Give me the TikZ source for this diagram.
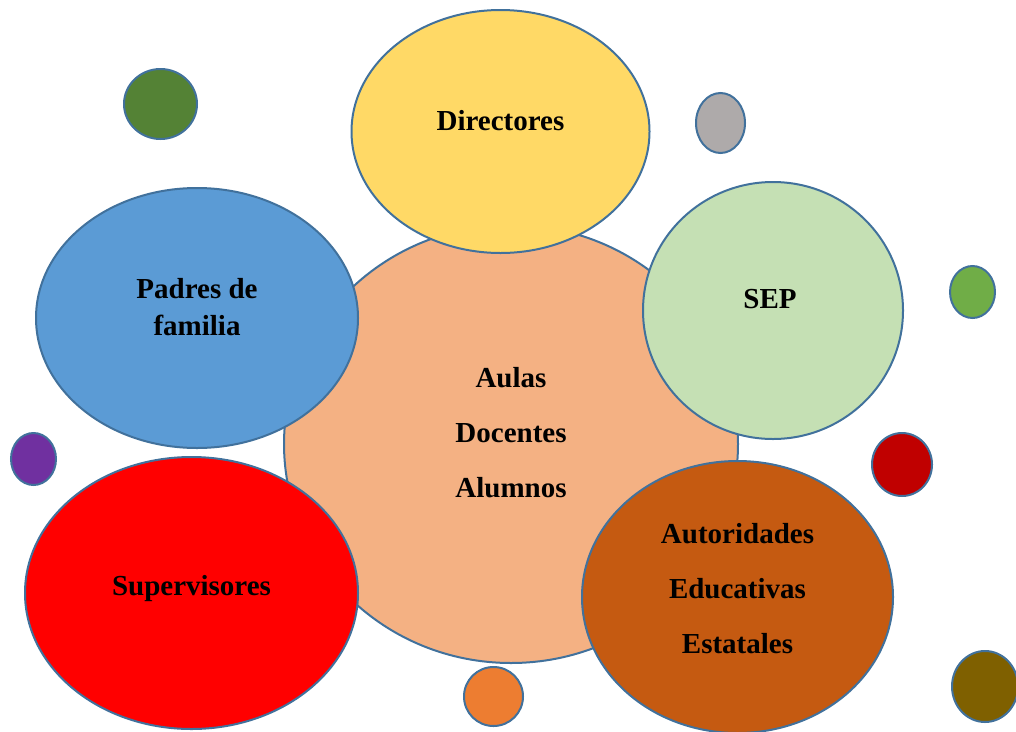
\documentclass[tikz,border=0pt]{standalone}
\usepackage{fontspec}
\setmainfont{Liberation Serif}
\usetikzlibrary{shapes.geometric}
\definecolor{outl}{HTML}{41719C}
\definecolor{cCentral}{HTML}{F4B183}
\definecolor{cDir}{HTML}{FFD966}
\definecolor{cPad}{HTML}{5B9BD5}
\definecolor{cSep}{HTML}{C5E0B4}
\definecolor{cSup}{HTML}{FF0000}
\definecolor{cAut}{HTML}{C55A11}
\definecolor{cDGreen}{HTML}{548235}
\definecolor{cGray}{HTML}{AEAAAA}
\definecolor{cLGreen}{HTML}{70AD47}
\definecolor{cPurple}{HTML}{7030A0}
\definecolor{cDRed}{HTML}{C00000}
\definecolor{cOrange}{HTML}{ED7D31}
\definecolor{cOlive}{HTML}{7F6000}
\tikzset{
  blob/.style={ellipse, draw=outl, line width=2pt, inner sep=0pt, outer sep=0pt},
  lbl/.style={anchor=base, font=\fontsize{29}{34}\selectfont\bfseries, inner sep=0pt, text=black}
}
\begin{document}
\begin{tikzpicture}[x=1pt,y=-1pt]
\useasboundingbox (0,0) rectangle (1016,731);
% central
\node[blob, fill=cCentral, minimum width=454pt, minimum height=438pt] (central) at (511,444) {};
% surrounding
\node[blob, fill=cDir, minimum width=298pt, minimum height=243pt] (dir) at (500.5,131.5) {};
\node[blob, fill=cPad, minimum width=322pt, minimum height=260pt] (pad) at (197,318) {};
\node[blob, fill=cSep, minimum width=260pt, minimum height=257pt] (sep) at (773,310.5) {};
\node[blob, fill=cSup, minimum width=333pt, minimum height=272pt] (sup) at (191.5,593) {};
\node[blob, fill=cAut, minimum width=311pt, minimum height=272pt] (aut) at (737.5,597) {};
% small circles
\node[blob, fill=cDGreen, minimum width=73pt, minimum height=70pt] (s1) at (160.5,104) {};
\node[blob, fill=cGray, minimum width=49pt, minimum height=60pt] (s2) at (720.5,123) {};
\node[blob, fill=cLGreen, minimum width=45pt, minimum height=52pt] (s3) at (972.5,292) {};
\node[blob, fill=cPurple, minimum width=45pt, minimum height=52pt] (s4) at (33.5,459) {};
\node[blob, fill=cDRed, minimum width=60pt, minimum height=63pt] (s5) at (902,464.5) {};
\node[blob, fill=cOrange, minimum width=59pt, minimum height=59pt] (s6) at (493.5,696.5) {};
\node[blob, fill=cOlive, minimum width=66pt, minimum height=71pt] (s7) at (985,686.5) {};
% labels
\node[lbl] (t1) at (511,387) {Aulas};
\node[lbl] (t2) at (511,442) {Docentes};
\node[lbl] (t3) at (511,497) {Alumnos};
\node[lbl] (tdir) at (500.5,130) {Directores};
\node[lbl] (tpad1) at (197,298) {Padres de};
\node[lbl] (tpad2) at (197,335) {familia};
\node[lbl] (tsep) at (770,308) {SEP};
\node[lbl] (tsup) at (191.5,595) {Supervisores};
\node[lbl] (ta1) at (737.5,543) {Autoridades};
\node[lbl] (ta2) at (737.5,598) {Educativas};
\node[lbl] (ta3) at (737.5,653) {Estatales};
\end{tikzpicture}
\end{document}
